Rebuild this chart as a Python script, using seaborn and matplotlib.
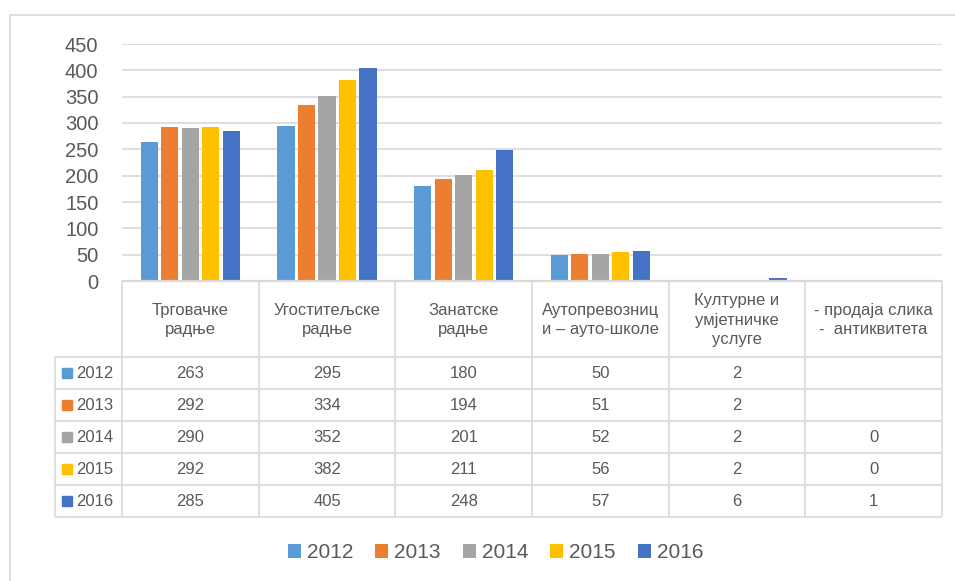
import numpy as np
import pandas as pd
import matplotlib.pyplot as plt
import seaborn as sns
from matplotlib.patches import Rectangle

categories = ['Трговачке\nрадње', 'Угоститељске\nрадње', 'Занатске\nрадње',
              'Аутопревозниц\nи – ауто-школе', 'Културне и\nумјетничке\nуслуге',
              '- продаја слика\n-  антиквитета']
years = ['2012', '2013', '2014', '2015', '2016']
v2012 = [263, 295, 180, 50, 2, np.nan]
v2013 = [292, 334, 194, 51, 2, np.nan]
v2014 = [290, 352, 201, 52, 2, 0]
v2015 = [292, 382, 211, 56, 2, 0]
v2016 = [285, 405, 248, 57, 6, 1]
colors = ['#5B9BD5', '#ED7D31', '#A5A5A5', '#FFC000', '#4472C4']

values = dict(zip(years, [v2012, v2013, v2014, v2015, v2016]))
df = pd.DataFrame([(c, y, v) for y in years for c, v in zip(categories, values[y])],
                  columns=['category', 'year', 'value'])

plt.rcParams['font.family'] = ['Liberation Sans', 'DejaVu Sans']
grey_text = '#595959'
line_col = '#D9D9D9'

W, H = 955, 581
fig = plt.figure(figsize=(W / 100, H / 100), dpi=100)


def box(x0, y0, x1, y1):
    # pixel box (top-left origin) -> figure fraction
    return [x0 / W, 1 - y1 / H, (x1 - x0) / W, (y1 - y0) / H]


# outer chart border
fig.add_artist(Rectangle((10 / W, -0.1), 1.2, 1 - 15 / H + 0.1, transform=fig.transFigure,
                         fill=False, ec=line_col, lw=1.2))

ax = fig.add_axes(box(122, 44, 942, 281))
sns.barplot(data=df.dropna(), x='category', y='value', hue='year', order=categories,
            hue_order=years, palette=dict(zip(years, colors)), saturation=1,
            width=0.75, gap=0.17, linewidth=0, ax=ax)
ax.set_ylim(0, 450)
ax.set_yticks(range(0, 451, 50))
ax.set_xlim(-0.5, 5.5)
ax.set_xticks([])
ax.set_xlabel('')
ax.set_ylabel('')
ax.tick_params(axis='y', length=0, pad=17, labelsize=14.5, labelcolor=grey_text)
ax.yaxis.grid(True, color=line_col, lw=1.2)
ax.set_axisbelow(True)
for s in ax.spines.values():
    s.set_visible(False)

handles, labels = ax.get_legend_handles_labels()
ax.get_legend().remove()
fig.legend(handles, labels, loc='center', bbox_to_anchor=(495.5 / W, 1 - 553 / H), ncol=5,
           frameon=False, fontsize=15, handlelength=0.62, handleheight=0.62,
           handletextpad=0.3, columnspacing=1.05, labelcolor=grey_text, borderaxespad=0)

# data table under the plot, columns aligned with the categories
header_h, row_h = 76, 32
label_w = (122 - 55) / (820 / 6)
tab = fig.add_axes(box(122, 281, 942, 517))
total_h = header_h + row_h * len(years)
tab.set_xlim(-0.5, 5.5)
tab.set_ylim(total_h, 0)
tab.axis('off')

lk = dict(color=line_col, lw=1.2, clip_on=False, solid_capstyle='butt')
# top border doubles as the category axis line
tab.plot([-0.5, 5.5], [0, 0], color=line_col, lw=1.6, clip_on=False, solid_capstyle='butt')
for i in range(len(categories) + 1):
    tab.plot([i - 0.5, i - 0.5], [0, total_h], **lk)
tab.plot([-0.5 - label_w] * 2, [header_h, total_h], **lk)
for r in range(len(years) + 1):
    y = header_h + r * row_h
    tab.plot([-0.5 - label_w, 5.5], [y, y], **lk)

for i, c in enumerate(categories):
    tab.text(i, header_h / 2 + 1, c, ha='center', va='center', fontsize=12,
             linespacing=1.4, color=grey_text)

for r, (y, col) in enumerate(zip(years, colors)):
    yc = header_h + (r + 0.5) * row_h
    tab.plot(-0.906, yc, marker='s', ms=6.5, color=col, clip_on=False)
    tab.text(-0.835, yc, y, ha='left', va='center', fontsize=12, color=grey_text)
    for i, v in enumerate(values[y]):
        txt = '' if np.isnan(v) else f'{int(v)}'
        tab.text(i, yc, txt, ha='center', va='center', fontsize=12, color=grey_text)

fig.savefig('out.png', dpi=100)
